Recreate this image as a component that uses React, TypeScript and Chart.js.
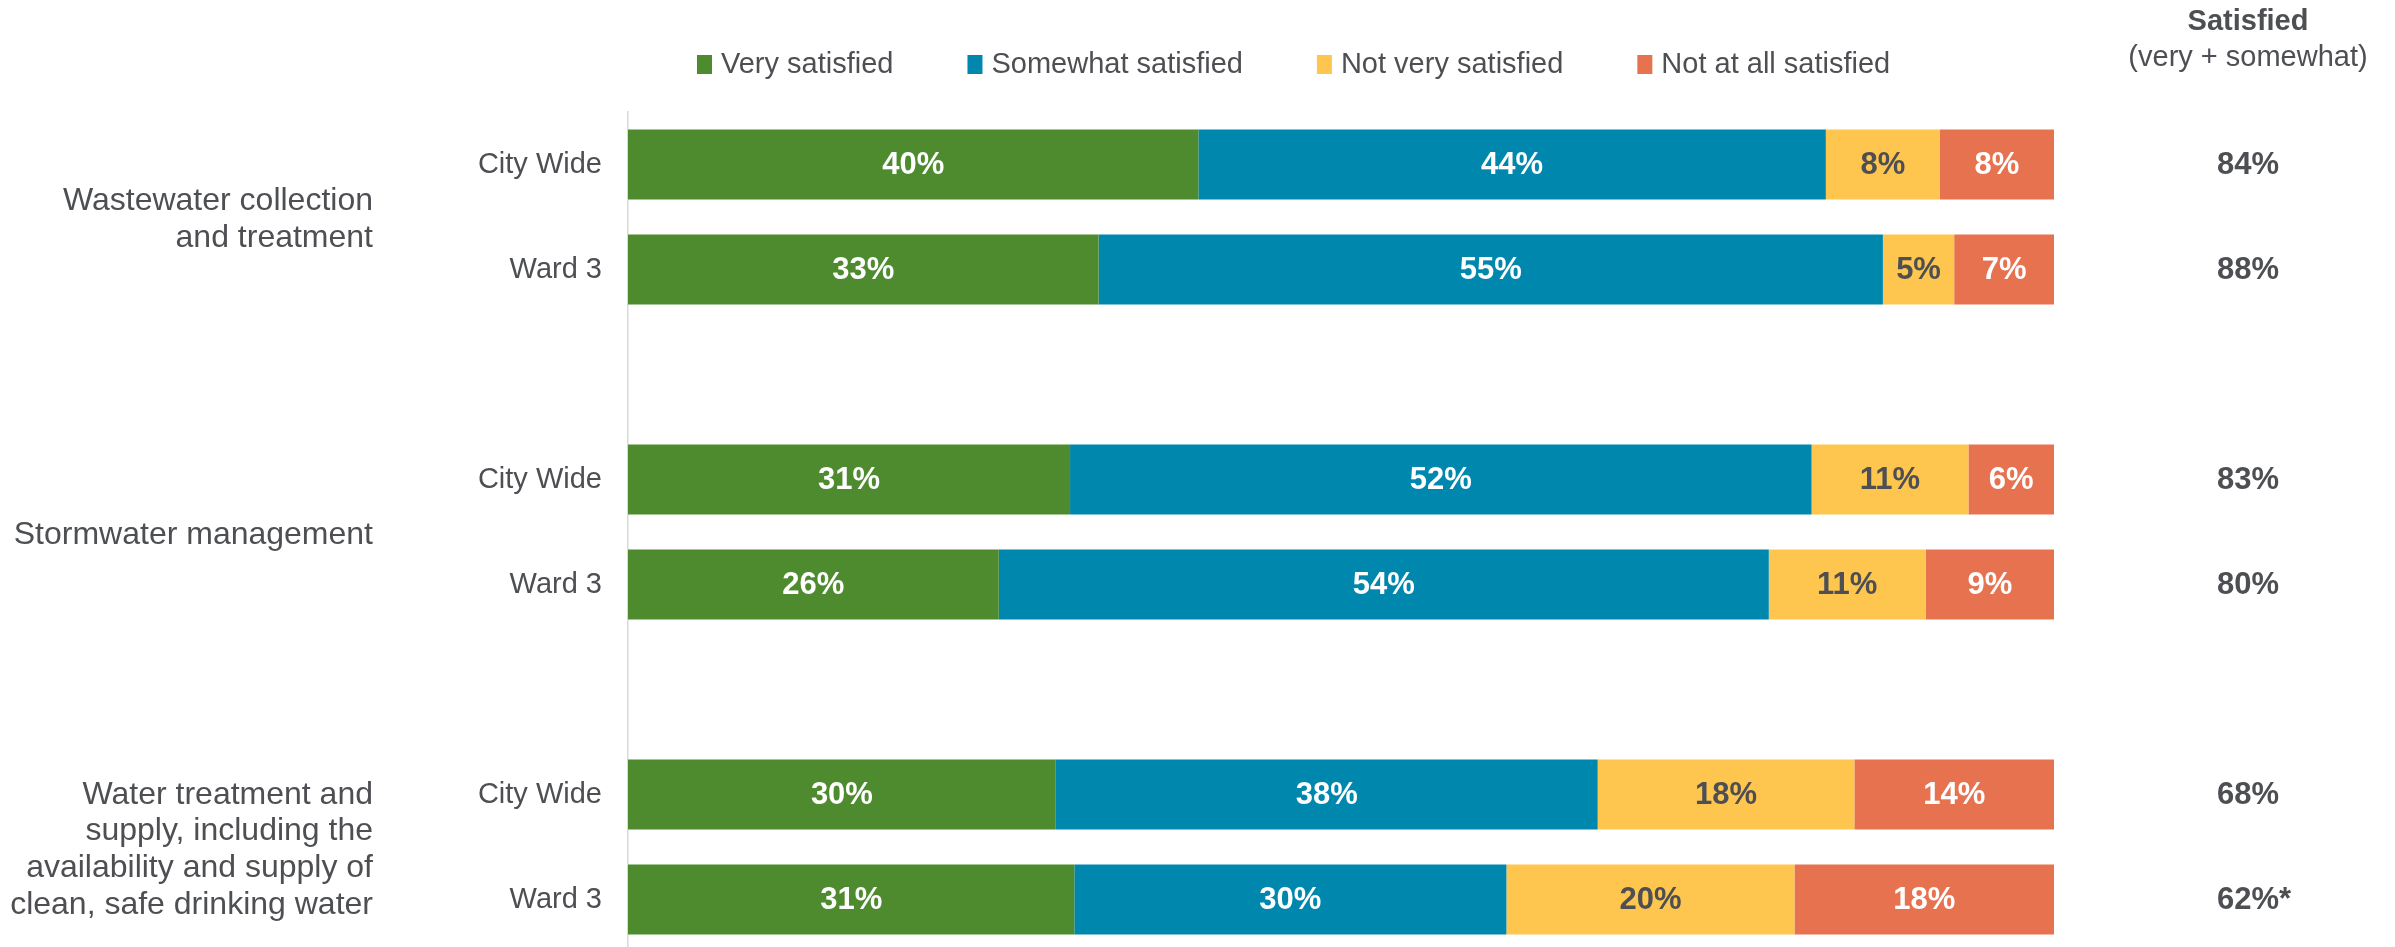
import React, { useEffect, useRef } from "react";
import { Chart, registerables } from "chart.js";

Chart.register(...registerables);

// ---- data ----
const rowLabels = ["City Wide", "Ward 3", "", "City Wide", "Ward 3", "", "City Wide", "Ward 3"];
const veryValues = [40, 33, null, 31, 26, null, 30, 31.3];
const somewhatValues = [44, 55, null, 52, 54, null, 38, 30.3];
const notVeryValues = [8, 5, null, 11, 11, null, 18, 20.2];
const notAtAllValues = [8, 7, null, 6, 9, null, 14, 18.2];
const satisfiedLabels = ["84%", "88%", null, "83%", "80%", null, "68%", "62%*"];
const seriesNames = ["Very satisfied", "Somewhat satisfied", "Not very satisfied", "Not at all satisfied"];
const groupLabels = [
  ["Wastewater collection", "and treatment"],
  ["Stormwater management"],
  ["Water treatment and", "supply, including the", "availability and supply of", "clean, safe drinking water"],
];
const groupRows = [[0, 1], [3, 4], [6, 7]];
const headerTitle = "Satisfied";
const headerSub = "(very + somewhat)";

// ---- style ----
const seriesColors = ["#4E8B2E", "#0087AE", "#FFC64F", "#E77250"];
const valueLabelColors = ["#FFFFFF", "#FFFFFF", "#4D4F53", "#FFFFFF"];
const TEXT = "#4D4F53";
const FONT = "'Liberation Sans', Arial, sans-serif";
const W = 2395;
const H = 952;

const overlayPlugin = {
  id: "overlay",
  afterDatasetsDraw(chart: any) {
    const ctx = chart.ctx;
    ctx.save();
    ctx.font = `bold 31px ${FONT}`;
    ctx.textAlign = "center";
    ctx.textBaseline = "middle";
    chart.data.datasets.forEach((ds: any, i: number) => {
      const meta = chart.getDatasetMeta(i);
      meta.data.forEach((bar: any, j: number) => {
        const v = ds.data[j];
        if (v == null) return;
        const p = bar.getProps(["x", "y", "base"], true);
        ctx.fillStyle = valueLabelColors[i];
        ctx.fillText(Math.round(v) + "%", (p.x + p.base) / 2, p.y + 1);
      });
    });
    ctx.restore();
  },
  afterDraw(chart: any) {
    const ctx = chart.ctx;
    const yScale = chart.scales.y;
    ctx.save();
    ctx.textBaseline = "middle";

    // legend
    ctx.font = `29px ${FONT}`;
    let lx = 697;
    const ly = 65;
    seriesNames.forEach((name, i) => {
      ctx.fillStyle = seriesColors[i];
      ctx.fillRect(lx, ly - 10, 15, 19);
      ctx.fillStyle = TEXT;
      ctx.textAlign = "left";
      ctx.fillText(name, lx + 24, ly);
      lx += 24 + ctx.measureText(name).width + 74;
    });

    // header
    const cx = 2248;
    ctx.textAlign = "center";
    ctx.fillStyle = TEXT;
    ctx.font = `bold 29px ${FONT}`;
    ctx.fillText(headerTitle, cx, 22);
    ctx.font = `29px ${FONT}`;
    ctx.fillText(headerSub, cx, 58);

    // satisfied column
    ctx.font = `bold 31px ${FONT}`;
    ctx.textAlign = "left";
    satisfiedLabels.forEach((lab, j) => {
      if (!lab) return;
      const base = lab.replace("*", "");
      const w = ctx.measureText(base).width;
      ctx.fillText(lab, cx - w / 2, yScale.getPixelForValue(j) + 1);
    });

    // group labels
    ctx.font = `32px ${FONT}`;
    ctx.textAlign = "right";
    const lh = 36.7;
    groupLabels.forEach((lines, g) => {
      const rows = groupRows[g];
      const mid = (yScale.getPixelForValue(rows[0]) + yScale.getPixelForValue(rows[1])) / 2;
      const start = mid - ((lines.length - 1) * lh) / 2 + 3;
      lines.forEach((t, k) => ctx.fillText(t, 373, start + k * lh));
    });
    ctx.restore();
  },
};

export default function App() {
  const ref = useRef<HTMLCanvasElement>(null);
  useEffect(() => {
    if (!ref.current) return;
    const allSeries = [veryValues, somewhatValues, notVeryValues, notAtAllValues];
    const chart = new Chart(ref.current, {
      type: "bar",
      data: {
        labels: rowLabels,
        datasets: allSeries.map((d, i) => ({
          label: seriesNames[i],
          data: d,
          backgroundColor: seriesColors[i],
          borderWidth: 0,
          barPercentage: 0.665,
          categoryPercentage: 1,
        })),
      },
      options: {
        indexAxis: "y",
        responsive: false,
        animation: false,
        devicePixelRatio: 1,
        layout: { padding: { top: 112, right: 341, left: 0, bottom: 0 } },
        plugins: { legend: { display: false }, tooltip: { enabled: false } },
        scales: {
          x: { stacked: true, display: false, min: 0, max: 100 },
          y: {
            stacked: true,
            grid: { display: false, drawTicks: false },
            border: { display: true, color: "#D9D9D9", width: 1.5 },
            ticks: { color: TEXT, font: { size: 29, family: FONT }, padding: 26 },
            afterFit: (s: any) => {
              s.width = 628;
              s.paddingTop = 0;
              s.paddingBottom = 0;
            },
          },
        },
      },
      plugins: [overlayPlugin],
    } as any);
    return () => chart.destroy();
  }, []);
  return (
    <div style={{ position: "fixed", left: 0, top: 0, width: W, height: 947, overflow: "hidden", background: "#fff" }}>
      <canvas ref={ref} width={W} height={H} style={{ width: W, height: H, display: "block" }} />
    </div>
  );
}
